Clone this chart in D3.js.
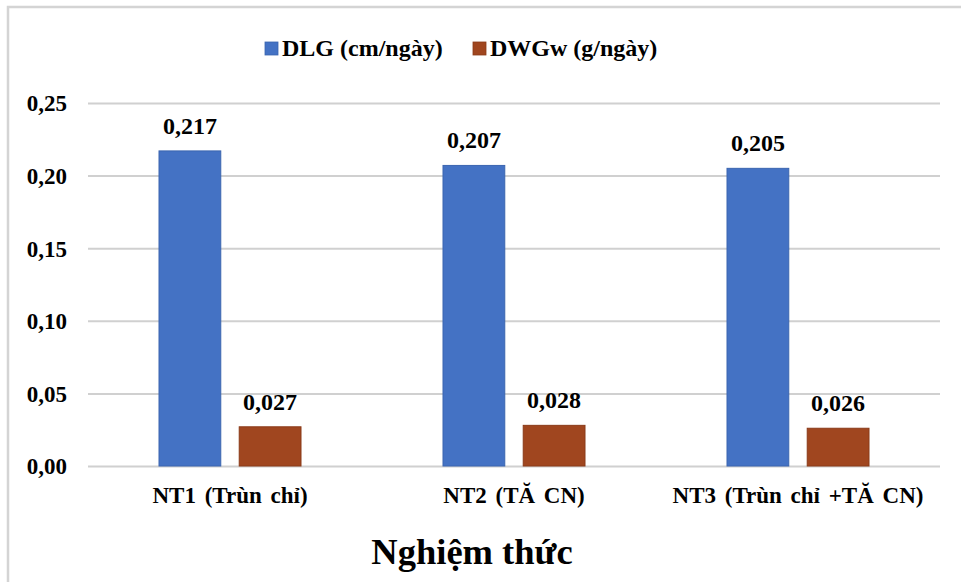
<!DOCTYPE html>
<html><head><meta charset="utf-8">
<script src="https://cdn.jsdelivr.net/npm/d3@7"></script>
</head><body style="margin:0"><svg id="c" width="961" height="582" font-family="Liberation Serif" style="font-family:'Liberation Serif',serif"></svg>
<script>
const categories = ["NT1 (Trùn chỉ)", "NT2 (TĂ CN)", "NT3 (Trùn chỉ +TĂ CN)"];
const seriesNames = ["DLG (cm/ngày)", "DWGw (g/ngày)"];
const dlg = [0.217, 0.207, 0.205];
const dwgw = [0.027, 0.028, 0.026];
const yTicks = [0, 0.05, 0.10, 0.15, 0.20, 0.25];
const axisTitle = "Nghiệm thức";
const colors = ["#4472C4", "#A0461F"];
const strokes = ["#3B65B0", "#8A3A18"];
const FF = "Liberation Serif";

function draw() {
  const svg = d3.select("#c");
  svg.selectAll("*").remove();
  const T = sel => sel.attr("font-family",FF).style("font-family","'Liberation Serif', serif").attr("font-weight","bold").attr("fill","#000");

  svg.append("rect").attr("x",8).attr("y",7).attr("width",960).attr("height",600)
    .attr("fill","none").attr("stroke","#d4d4d4").attr("stroke-width",2.5);

  const m = {l:88, r:940, t:103, b:466};
  const x0 = d3.scaleBand().domain(categories).range([m.l, m.r]).paddingInner(0.5).paddingOuter(0.25);
  const x1 = d3.scaleBand().domain(seriesNames).range([0, x0.bandwidth()]).paddingInner(0.23);
  const y = d3.scaleLinear().domain([0, 0.25]).range([m.b, m.t]);
  const fmt = v => v.toFixed(2).replace(".", ",");
  const fmt3 = v => v.toFixed(3).replace(".", ",");

  const yAxis = d3.axisLeft(y).tickValues(yTicks).tickSize(-(m.r - m.l)).tickFormat(fmt).tickPadding(21);
  const ga = svg.append("g").attr("transform",`translate(${m.l},0)`).call(yAxis);
  ga.attr("font-family",FF);
  ga.select(".domain").remove();
  ga.selectAll(".tick line").attr("stroke","#d0d0d0").attr("stroke-width",2);
  T(ga.selectAll(".tick text").attr("font-size",23).attr("dy","0.34em"));

  const data = categories.map((c,i)=>({c, vals:[dlg[i], dwgw[i]]}));
  const g = svg.append("g");
  data.forEach(d=>{
    d.vals.forEach((v,j)=>{
      const bx = x0(d.c) + x1(seriesNames[j]);
      g.append("rect").attr("x",bx).attr("y",y(v)).attr("width",x1.bandwidth()).attr("height",y(0)-y(v))
        .attr("fill",colors[j]).attr("stroke",strokes[j]).attr("stroke-width",1);
      T(g.append("text").attr("x",bx + x1.bandwidth()/2).attr("y",y(v)-17).attr("text-anchor","middle")
        .attr("font-size",24)).text(fmt3(v));
    });
  });

  const xa = d3.axisBottom(x0).tickSize(0).tickPadding(21);
  const gx = svg.append("g").attr("transform",`translate(0,${m.b})`).call(xa);
  gx.attr("font-family",FF);
  gx.select(".domain").remove();
  T(gx.selectAll(".tick text").attr("font-size",23).attr("word-spacing",3));

  T(svg.append("text").attr("x",472).attr("y",564).attr("text-anchor","middle").attr("font-size",36.5)).text(axisTitle);

  const leg = [{x:265, tx:282},{x:473, tx:490}];
  seriesNames.forEach((s,j)=>{
    svg.append("rect").attr("x",leg[j].x).attr("y",42).attr("width",13).attr("height",13).attr("fill",colors[j]).attr("stroke",strokes[j]).attr("stroke-width",0.8);
    T(svg.append("text").attr("x",leg[j].tx).attr("y",56).attr("font-size",24)).text(s);
  });
}
draw();
if (document.fonts && document.fonts.load) {
  document.fonts.load("bold 24px 'Liberation Serif'").then(draw).catch(()=>{});
}
</script></body></html>
